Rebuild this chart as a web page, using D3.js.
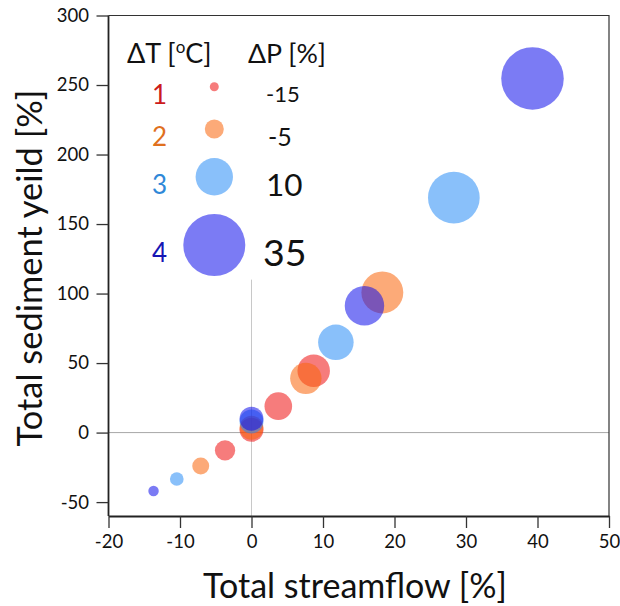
<!DOCTYPE html>
<html>
<head>
<meta charset="utf-8">
<script src="https://cdn.jsdelivr.net/npm/d3@7"></script>
<style>
  html, body { margin: 0; padding: 0; background: #fff; }
  svg { display: block; }
  text { font-family: Lato, Carlito, Calibri, "Open Sans", sans-serif; fill: #111; }
</style>
</head>
<body>
<svg id="chart" width="620" height="606"></svg>
<script>
// ---------------- data ----------------
const xTicks = [-20, -10, 0, 10, 20, 30, 40, 50];
const yTicks = [-50, 0, 50, 100, 150, 200, 250, 300];
const deltaT = ["1", "2", "3", "4"];
const deltaP = [-15, -5, 10, 35];

// Total streamflow [%] and total sediment yield [%] for each ΔT series
const streamflowT1 = [-3.7, 0, 3.75, 8.7];
const sedimentT1   = [-12.8, 2, 19, 44.5];
const streamflowT2 = [-7.1, 0, 7.6, 18.3];
const sedimentT2   = [-24.1, 3.5, 39, 100.8];
const streamflowT3 = [-10.45, 0, 11.8, 28.3];
const sedimentT3   = [-33.4, 8, 64.9, 169];
const streamflowT4 = [-13.7, 0, 15.8, 39.3];
const sedimentT4   = [-42, 10, 91.2, 254.7];

// ---------------- styles ----------------
const fillColors  = ["#ee1111", "#fa640a", "#288cf5", "#0f0feb"];
const labelColors = ["#cc1b1b", "#e0701e", "#2f88d8", "#1616b4"];
const fillOpacity = 0.55;

const series = [
  { t: deltaT[0], x: streamflowT1, y: sedimentT1 },
  { t: deltaT[1], x: streamflowT2, y: sedimentT2 },
  { t: deltaT[2], x: streamflowT3, y: sedimentT3 },
  { t: deltaT[3], x: streamflowT4, y: sedimentT4 }
];

const svg = d3.select("#chart");
const pLeft = 108.5, pRight = 609, pTop = 15.5, pBottom = 516;

const x = d3.scaleLinear().domain([-20, 50]).range([pLeft, pRight]);
const y = d3.scaleLinear().domain([-60, 300]).range([pBottom, pTop]);
const r = d3.scaleLinear().domain([-15, 40]).range([4.6, 31.6]);
const rLegend = d3.scaleLinear().domain(deltaP).range([4.5, 9.5, 18.7, 31]);

function fit(sel, target) {
  const w = sel.node().getComputedTextLength();
  const fs = parseFloat(sel.attr("font-size"));
  sel.attr("font-size", fs * target / w);
  return fs * target / w;
}

// reference lines
svg.append("line")
  .attr("x1", x(-20)).attr("x2", x(50))
  .attr("y1", y(0)).attr("y2", y(0))
  .attr("stroke", "#a8a8a8").attr("stroke-width", 1);
svg.append("line")
  .attr("x1", x(0)).attr("x2", x(0))
  .attr("y1", y(-60)).attr("y2", y(110))
  .attr("stroke", "#c8c8c8").attr("stroke-width", 1);

// frame top/right
svg.append("path")
  .attr("d", `M${pLeft},${pTop}H${pRight}V${pBottom}`)
  .attr("fill", "none").attr("stroke", "#333").attr("stroke-width", 1.2);

// axes
const fmt = d => String(d);
const gx = svg.append("g").attr("transform", `translate(0,${pBottom})`)
  .call(d3.axisBottom(x).tickValues(xTicks).tickFormat(fmt).tickSize(12).tickSizeOuter(0).tickPadding(7));
const gy = svg.append("g").attr("transform", `translate(${pLeft},0)`)
  .call(d3.axisLeft(y).tickValues(yTicks).tickFormat(fmt).tickSize(12).tickSizeOuter(0).tickPadding(7.5));
[gx, gy].forEach(g => {
  g.select(".domain").attr("stroke", "#222").attr("stroke-width", 1.8);
  g.selectAll(".tick line").attr("stroke", "#333").attr("stroke-width", 1.3);
  g.selectAll(".tick text").attr("font-family", "Lato, Carlito, Calibri, sans-serif")
    .attr("font-size", 18.5).attr("fill", "#1a1a1a");
});
gy.select(".domain").attr("d", `M0,${y(300)}V${pBottom}`);

// points
const pts = [];
series.forEach((s, i) => s.x.forEach((v, j) => pts.push({ sx: v, sy: s.y[j], i })));
svg.append("g").selectAll("circle").data(pts).join("circle")
  .attr("cx", d => x(d.sx)).attr("cy", d => y(d.sy)).attr("r", d => r(d.sx))
  .attr("fill", d => fillColors[d.i]).attr("fill-opacity", fillOpacity);

// legend
const legendCircleX = 214.3;
const legendRowY = [86.8, 129, 176.8, 245];
const tFont = [26, 26, 26, 26];
const pFont = [22, 25, 31.5, 37.5];
const lg = svg.append("g");

const h1 = lg.append("text").attr("x", 127).attr("y", 63).attr("font-size", 27);
h1.append("tspan").text("ΔT [");
h1.append("tspan").attr("font-size", 17).attr("dy", -10).text("o");
h1.append("tspan").attr("dy", 10).text("C]");
const h2 = lg.append("text").attr("x", 248).attr("y", 63).attr("font-size", 27).text("ΔP [%]");
fit(h2, 78);

deltaT.forEach((t, i) => {
  lg.append("text").attr("x", 152).attr("y", legendRowY[i] + 7.7 + 0.36 * tFont[i])
    .attr("font-size", tFont[i]).style("fill", labelColors[i]).text(t);
});
deltaP.forEach((p, i) => {
  lg.append("circle").attr("cx", legendCircleX).attr("cy", legendRowY[i])
    .attr("r", rLegend(p)).attr("fill", fillColors[i]).attr("fill-opacity", fillOpacity);
  lg.append("text").attr("x", [266, 268, 266, 263][i])
    .attr("y", legendRowY[i] + 7.7 + 0.36 * pFont[i])
    .attr("font-size", pFont[i]).text(String(p));
});

// axis titles
const xt = svg.append("text").attr("x", 355).attr("y", 598).attr("text-anchor", "middle")
  .attr("font-size", 32).text("Total streamflow [%]");
fit(xt, 304);
const yt = svg.append("text").attr("text-anchor", "middle")
  .attr("transform", "translate(42,268) rotate(-90)")
  .attr("font-size", 32).text("Total sediment yeild [%]");
fit(yt, 357);
</script>
</body>
</html>
